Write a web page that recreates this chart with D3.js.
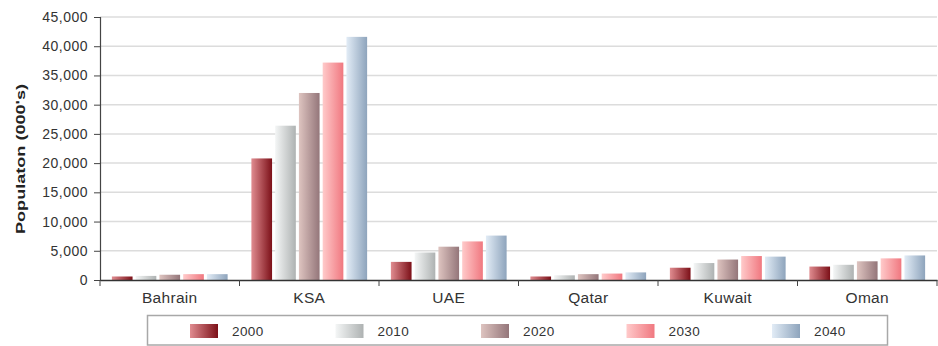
<!DOCTYPE html>
<html><head><meta charset="utf-8">
<script src="https://cdn.jsdelivr.net/npm/d3@7"></script>
<style>body{margin:0;background:#fff}svg{display:block}</style>
</head><body>
<script>
const categories = ["Bahrain","KSA","UAE","Qatar","Kuwait","Oman"];
const years = ["2000","2010","2020","2030","2040"];
const v2000 = [600, 20800, 3100, 600, 2100, 2300];
const v2010 = [700, 26400, 4700, 800, 2900, 2600];
const v2020 = [900, 32000, 5700, 1000, 3500, 3200];
const v2030 = [1000, 37200, 6600, 1100, 4100, 3700];
const v2040 = [1000, 41600, 7600, 1300, 4000, 4200];
const yTicks = [0,5000,10000,15000,20000,25000,30000,35000,40000,45000];
const seriesValues = [v2000, v2010, v2020, v2030, v2040];
const gradStops = [["#e08c90","#7c1018"],["#f4f6f6","#aeb2b2"],["#dec4c0","#94767a"],["#ffcaca","#f07880"],["#e2ecf6","#8ea4bc"]];

const W = 938, H = 346;
const m = {l:100, r:1, t:17, b:66};
const FONT = "Liberation Sans, Arial, sans-serif";
const svg = d3.select("body").append("svg").attr("width",W).attr("height",H);
const defs = svg.append("defs");
years.forEach((y,i)=>{
  const g = defs.append("linearGradient").attr("id","g"+i).attr("x1","0").attr("x2","1").attr("y1","0").attr("y2","0");
  g.append("stop").attr("offset","0").attr("stop-color",gradStops[i][0]);
  g.append("stop").attr("offset","1").attr("stop-color",gradStops[i][1]);
});

const x0 = d3.scaleBand().domain(categories).range([m.l, W-m.r]).paddingInner(0).paddingOuter(0);
const x1 = d3.scaleBand().domain(years).range([0, x0.bandwidth()]).paddingOuter(0.5).paddingInner(0.13);
const y = d3.scaleLinear().domain([0,45000]).range([H-m.b, m.t]);

// gridlines
svg.append("g").selectAll("line").data(yTicks.slice(1)).join("line")
  .attr("x1",m.l).attr("x2",W-m.r).attr("y1",d=>y(d)).attr("y2",d=>y(d))
  .attr("stroke","#dcdcdc").attr("stroke-width",1.5);

// bars
categories.forEach((c,ci)=>{
  const g = svg.append("g").attr("transform",`translate(${x0(c)},0)`);
  years.forEach((yr,si)=>{
    const v = seriesValues[si][ci];
    g.append("rect").attr("x",x1(yr)).attr("width",x1.bandwidth())
      .attr("y",y(v)).attr("height",y(0)-y(v)).attr("fill",`url(#g${si})`);
  });
});

// y axis
const ya = svg.append("g").attr("transform",`translate(${m.l},0)`)
  .call(d3.axisLeft(y).tickValues(yTicks).tickFormat(d3.format(",")).tickSize(6).tickPadding(6));
ya.select(".domain").attr("stroke","#444").attr("stroke-width",1.2);
ya.selectAll(".tick line").attr("stroke","#444");
ya.selectAll("text").attr("font-family",FONT).attr("font-size",14).attr("letter-spacing","0.5px").attr("fill","#333");

// x axis
const xa = svg.append("g").attr("transform",`translate(0,${y(0)})`)
  .call(d3.axisBottom(x0).tickSize(0).tickPadding(12));
xa.select(".domain").attr("stroke","#333").attr("stroke-width",1.5);
xa.selectAll("text").attr("font-family",FONT).attr("font-size",15.5).attr("letter-spacing","0.3px").attr("fill","#333");
// category boundary ticks
const bounds = categories.map(c=>x0(c)).concat([W-m.r]);
svg.append("g").selectAll("line").data(bounds).join("line")
  .attr("x1",d=>d).attr("x2",d=>d).attr("y1",y(0)).attr("y2",y(0)+6)
  .attr("stroke","#444").attr("stroke-width",1);

// y title
svg.append("text").attr("transform",`translate(25,159) rotate(-90)`)
  .attr("text-anchor","middle").attr("font-family",FONT)
  .attr("font-size",13).attr("font-weight","bold").attr("fill","#222")
  .attr("textLength",150).attr("lengthAdjust","spacingAndGlyphs").text("Populaton (000's)");

// legend
const lg = svg.append("g");
lg.append("rect").attr("x",147.5).attr("y",315.5).attr("width",740).attr("height",29.5)
  .attr("fill","#fff").attr("stroke","#a8a8a8").attr("stroke-width",1.5);
years.forEach((yr,i)=>{
  const lx = 190 + i*145.5;
  lg.append("rect").attr("x",lx).attr("y",324).attr("width",28).attr("height",14).attr("fill",`url(#g${i})`);
  lg.append("text").attr("x",lx+42).attr("y",336).attr("font-family",FONT)
    .attr("font-size",13.5).attr("letter-spacing","0.4px").attr("fill","#333").text(yr);
});
</script>
</body></html>
